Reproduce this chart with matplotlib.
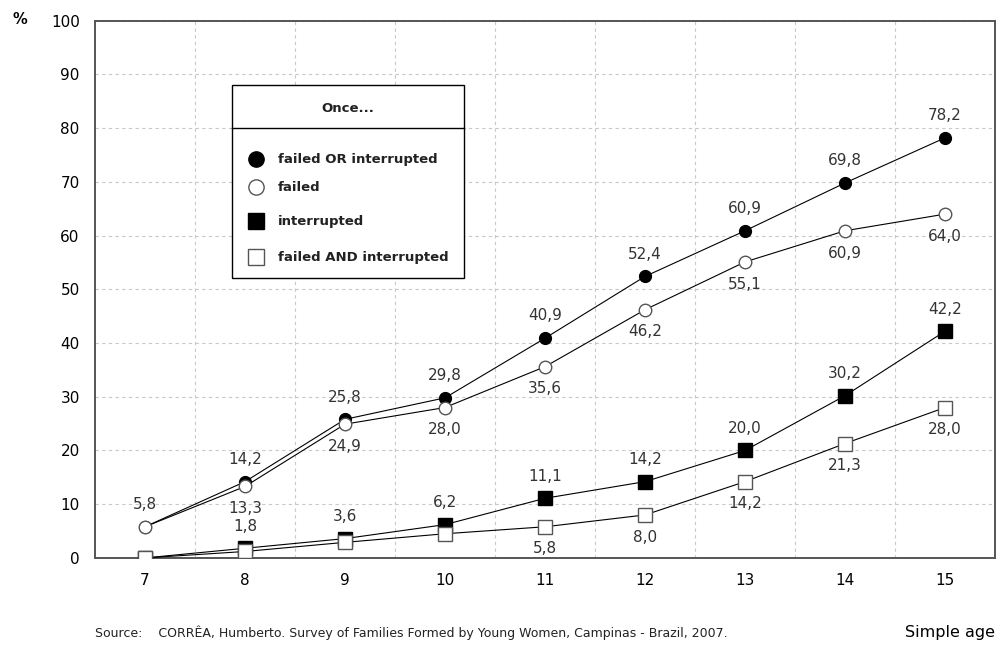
import numpy as np
import matplotlib
matplotlib.use("Agg")
import matplotlib.pyplot as plt
from matplotlib.lines import Line2D
from matplotlib.patches import Rectangle

plt.rcParams['font.family'] = ['DejaVu Sans']

# data
ages = [7, 8, 9, 10, 11, 12, 13, 14, 15]
failed_or = [5.8, 14.2, 25.8, 29.8, 40.9, 52.4, 60.9, 69.8, 78.2]
failed = [5.8, 13.3, 24.9, 28.0, 35.6, 46.2, 55.1, 60.9, 64.0]
interrupted = [0.0, 1.8, 3.6, 6.2, 11.1, 14.2, 20.0, 30.2, 42.2]
failed_and = [0.0, 1.2, 2.9, 4.5, 5.8, 8.0, 14.2, 21.3, 28.0]

series_names = ['failed OR interrupted', 'failed', 'interrupted', 'failed AND interrupted']
yticks = [0, 10, 20, 30, 40, 50, 60, 70, 80, 90, 100]

fig = plt.figure(figsize=(10, 6.48), dpi=100)
ax = fig.add_axes([0.095, 0.139, 0.90, 0.829])

ax.set_xlim(6.5, 15.5)
ax.set_ylim(0, 100)
ax.set_xticks(ages)
ax.set_yticks(yticks)
ax.set_xticks(np.arange(7.5, 15.5, 1), minor=True)
ax.tick_params(which='both', length=0)
ax.tick_params(axis='x', pad=11, labelsize=11)
ax.tick_params(axis='y', pad=11, labelsize=11)
ax.grid(True, axis='y', which='major', color='#c8c8c8', linestyle=(0, (3, 3)), linewidth=0.8)
ax.grid(True, axis='x', which='minor', color='#c8c8c8', linestyle=(0, (3, 3)), linewidth=0.8)
ax.set_axisbelow(True)
for s in ax.spines.values():
    s.set_color('#555555')
    s.set_linewidth(1.4)

ax.plot(ages, failed_or, color='black', lw=0.8, marker='o', ms=8.5,
        mfc='black', mec='black', zorder=3)
ax.plot(ages, failed, color='black', lw=0.8, marker='o', ms=9,
        mfc='white', mec='#555555', mew=1.0, zorder=4)
ax.plot(ages, interrupted, color='black', lw=0.8, marker='s', ms=10,
        mfc='black', mec='black', zorder=3)
ax.plot(ages, failed_and, color='black', lw=0.8, marker='s', ms=10,
        mfc='white', mec='#555555', mew=1.0, zorder=4)


def fmt(v):
    return ('%.1f' % v).replace('.', ',')


lab_kw = dict(textcoords='offset points', ha='center', va='center',
              fontsize=11, color='#333333')
for i, x in enumerate(ages):
    if i > 0:
        ax.annotate(fmt(failed_or[i]), (x, failed_or[i]), xytext=(0, 16), **lab_kw)
        ax.annotate(fmt(failed[i]), (x, failed[i]), xytext=(0, -16), **lab_kw)
        ax.annotate(fmt(interrupted[i]), (x, interrupted[i]), xytext=(0, 16), **lab_kw)
    else:
        ax.annotate(fmt(failed[i]), (x, failed[i]), xytext=(0, 16), **lab_kw)
    if i >= 4:
        ax.annotate(fmt(failed_and[i]), (x, failed_and[i]), xytext=(0, -16), **lab_kw)

# legend box
W, H = 1000, 648
fig.patches.append(Rectangle((232 / W, 1 - 278 / H), 232 / W, 193 / H,
                             transform=fig.transFigure, fill=True, fc='white',
                             ec='black', lw=1.0, zorder=5))
fig.lines.append(Line2D([232 / W, 464 / W], [1 - 128 / H, 1 - 128 / H],
                        transform=fig.transFigure, color='black', lw=1.0, zorder=6))
fig.text(348 / W, 1 - 109 / H, 'Once...', ha='center', va='center',
         fontsize=9.5, fontweight='bold', color='#222222', zorder=7)

handles = [
    Line2D([], [], ls='none', marker='o', ms=11, mfc='black', mec='black'),
    Line2D([], [], ls='none', marker='o', ms=11, mfc='white', mec='#555555'),
    Line2D([], [], ls='none', marker='s', ms=11, mfc='black', mec='black'),
    Line2D([], [], ls='none', marker='s', ms=11, mfc='white', mec='#555555'),
]
leg_y = [159, 187, 221, 257]
for h, name, yy in zip(handles, series_names, leg_y):
    fig.lines.append(Line2D([256 / W], [1 - yy / H], transform=fig.transFigure,
                            ls='none', marker=h.get_marker(), ms=11,
                            mfc=h.get_markerfacecolor(), mec=h.get_markeredgecolor(),
                            zorder=7))
    fig.text(278 / W, 1 - yy / H, name, ha='left', va='center',
             fontsize=9.5, fontweight='bold', color='#222222', zorder=7)

fig.text(20 / W, 1 - 20 / H, '%', ha='center', va='center', fontsize=10.5, fontweight='bold')
fig.text(95 / W, 1 - 633 / H,
         'Source:    CORRÊA, Humberto. Survey of Families Formed by Young Women, Campinas - Brazil, 2007.',
         ha='left', va='center', fontsize=9, color='#222222')
fig.text(995 / W, 1 - 633 / H, 'Simple age', ha='right', va='center', fontsize=11.5)

fig.savefig('out.png', dpi=100)
